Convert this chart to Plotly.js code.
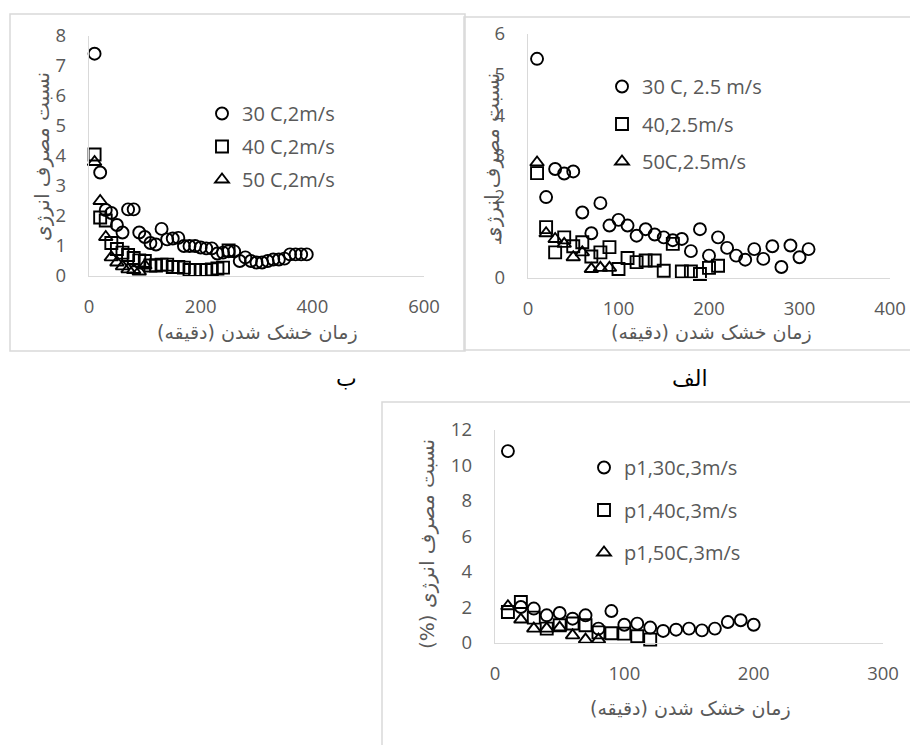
<!DOCTYPE html>
<html>
<head>
<meta charset="utf-8">
<script src="https://cdn.plot.ly/plotly-3.0.1.min.js"></script>
<style>html,body{margin:0;padding:0;background:#fff;}#chart{width:910px;height:745px;}</style>
</head>
<body>
<div id="chart"></div>
<script>
// ---- Panel "ب" (2 m/s) ----
const bTime30 = [10,20,30,40,50,60,70,80,90,100,110,120,130,140,150,160,170,180,190,200,210,220,230,240,250,260,270,280,290,300,310,320,330,340,350,360,370,380,390];
const bVal30  = [7.41,3.45,2.2,2.1,1.7,1.45,2.22,2.22,1.45,1.3,1.1,1.05,1.57,1.22,1.25,1.27,1.0,1.0,1.0,0.95,0.92,0.92,0.75,0.78,0.82,0.82,0.5,0.62,0.5,0.45,0.45,0.5,0.55,0.55,0.58,0.72,0.72,0.72,0.72];
const bTime40 = [10,20,30,40,50,60,70,80,90,100,110,120,130,140,150,160,170,180,190,200,210,220,230,240,250];
const bVal40  = [4.05,1.95,1.85,1.1,0.9,0.78,0.7,0.6,0.52,0.5,0.35,0.35,0.38,0.38,0.3,0.3,0.28,0.2,0.2,0.2,0.2,0.22,0.25,0.28,0.85];
const bTime50 = [10,20,30,40,50,60,70,80,90,100];
const bVal50  = [3.8,2.5,1.3,0.62,0.45,0.32,0.22,0.2,0.15,0.35];
const bNames  = ["30 C,2m/s","40 C,2m/s","50 C,2m/s"];

// ---- Panel "الف" (2.5 m/s) ----
const aTime30 = [10,20,30,40,50,60,70,80,90,100,110,120,130,140,150,160,170,180,190,200,210,220,230,240,250,260,270,280,290,300,310];
const aVal30  = [5.39,1.99,2.68,2.57,2.62,1.61,1.1,1.84,1.29,1.43,1.29,1.04,1.2,1.07,1.0,0.93,0.96,0.66,1.2,0.55,1.0,0.74,0.55,0.45,0.71,0.47,0.78,0.27,0.8,0.51,0.71];
const aTime40 = [10,20,30,40,50,60,70,80,90,100,110,120,130,140,150,160,170,180,190,200,210];
const aVal40  = [2.58,1.25,0.63,1.0,0.78,0.88,0.53,0.63,0.76,0.22,0.49,0.39,0.43,0.43,0.18,0.84,0.16,0.16,0.1,0.25,0.3];
const aTime50 = [10,20,30,40,50,60,70,80,90];
const aVal50  = [2.84,1.1,0.96,0.84,0.51,0.63,0.22,0.25,0.25];
const aNames  = ["30 C, 2.5 m/s","40,2.5m/s","50C,2.5m/s"];

// ---- Bottom panel (3 m/s) ----
const cTime30 = [10,20,30,40,50,60,70,80,90,100,110,120,130,140,150,160,170,180,190,200];
const cVal30  = [10.81,2.03,1.94,1.56,1.69,1.37,1.56,0.81,1.8,1.03,1.09,0.87,0.68,0.75,0.81,0.71,0.81,1.18,1.28,1.03];
const cTime40 = [10,20,30,40,50,60,70,80,90,100,110,120];
const cVal40  = [1.75,2.31,1.43,0.81,1.0,1.1,1.0,0.6,0.55,0.53,0.38,0.19];
const cTime50 = [10,20,30,40,50,60,70,80];
const cVal50  = [2.07,1.32,0.81,0.81,0.87,0.43,0.19,0.19];
const cNames  = ["p1,30c,3m/s","p1,40c,3m/s","p1,50C,3m/s"];

const RLM = "\u200F";
const yTitle   = "نسبت مصرف انرژی";
const yTitlePc = "نسبت مصرف انرژی (%)" + RLM;
const xTitle   = "زمان خشک شدن (دقیقه)" + RLM;
const panelB   = "ب";
const panelA   = "الف";

// ---- layout helpers (pixel -> paper) ----
const W = 910, H = 745;
const px = v => v / W;
const py = v => 1 - v / H;

const gray = '#595959';
const lineGray = '#d9d9d9';
const tickFont = {family: 'Open Sans, sans-serif', size: 18.5, color: gray};
const arFontY = {family: 'DejaVu Sans, sans-serif', size: 20, color: gray};
const arFontX = {family: 'DejaVu Sans, sans-serif', size: 19, color: gray};
const symbols = ['circle-open','square-open','triangle-up-open'];

function mk(x, y, name, i, xa, ya, leg) {
  return {
    type: 'scatter', mode: 'markers', x: x, y: y, name: name,
    xaxis: xa, yaxis: ya, legend: leg, legendgroup: leg + i,
    cliponaxis: false,
    marker: {symbol: symbols[i], size: 12, color: '#000', line: {color: '#000', width: 1.9}}
  };
}

const data = [
  mk(bTime30, bVal30, bNames[0], 0, 'x', 'y', 'legend'),
  mk(bTime40, bVal40, bNames[1], 1, 'x', 'y', 'legend'),
  mk(bTime50, bVal50, bNames[2], 2, 'x', 'y', 'legend'),
  mk(aTime30, aVal30, aNames[0], 0, 'x2', 'y2', 'legend2'),
  mk(aTime40, aVal40, aNames[1], 1, 'x2', 'y2', 'legend2'),
  mk(aTime50, aVal50, aNames[2], 2, 'x2', 'y2', 'legend2'),
  mk(cTime30, cVal30, cNames[0], 0, 'x3', 'y3', 'legend3'),
  mk(cTime40, cVal40, cNames[1], 1, 'x3', 'y3', 'legend3'),
  mk(cTime50, cVal50, cNames[2], 2, 'x3', 'y3', 'legend3')
];

function xax(d, range, dtick, anchor) {
  return {domain: d, range: range, dtick: dtick, tick0: 0, anchor: anchor,
    showline: true, linecolor: lineGray, linewidth: 1.3, showgrid: false, zeroline: false,
    ticks: '', tickfont: tickFont, ticklabelstandoff: 13, fixedrange: true};
}
function yax(d, range, dtick, anchor) {
  return {domain: d, range: range, dtick: dtick, tick0: 0, anchor: anchor,
    showline: true, linecolor: lineGray, linewidth: 1.3, showgrid: false, zeroline: false,
    ticks: '', tickfont: tickFont, ticklabelstandoff: 18, fixedrange: true};
}
function legendAt(x, y, gap) {
  return {x: px(x), y: py(y), xanchor: 'left', yanchor: 'top', bgcolor: 'rgba(0,0,0,0)',
    font: {family: 'Open Sans, sans-serif', size: 20, color: gray},
    tracegroupgap: gap, itemwidth: 30, borderwidth: 0};
}
function ann(text, x, y, font, angle) {
  return {text: text, x: px(x), y: py(y), xref: 'paper', yref: 'paper',
    xanchor: 'center', yanchor: 'middle', showarrow: false, font: font, textangle: angle || 0};
}
function frame(x0, y0, x1, y1) {
  return {type: 'rect', xref: 'paper', yref: 'paper', x0: px(x0), x1: px(x1), y0: py(y0), y1: py(y1),
    line: {color: lineGray, width: 1.5}, fillcolor: 'rgba(0,0,0,0)', layer: 'below'};
}

const layout = {
  width: W, height: H, margin: {l: 0, r: 0, t: 0, b: 0},
  paper_bgcolor: '#fff', plot_bgcolor: 'rgba(0,0,0,0)',
  showlegend: true,
  xaxis:  xax([px(89), px(424)], [0, 600], 200, 'y'),
  yaxis:  yax([py(276), py(36)], [0, 8], 1, 'x'),
  xaxis2: xax([px(528), px(890)], [0, 400], 100, 'y2'),
  yaxis2: yax([py(278), py(34)], [0, 6], 1, 'x2'),
  xaxis3: xax([px(495), px(883)], [0, 300], 100, 'y3'),
  yaxis3: yax([py(643), py(430)], [0, 12], 2, 'x3'),
  legend:  legendAt(202, 94, 4),
  legend2: legendAt(602, 67, 8.5),
  legend3: legendAt(584, 448, 13.5),
  shapes: [frame(10, 14, 465, 351), frame(464, 17, 915, 350), frame(382, 402, 915, 750)],
  annotations: [
    ann(yTitle, 42, 157, arFontY, -90),
    ann(xTitle, 257, 333, arFontX),
    ann(yTitle, 492, 157, arFontY, -90),
    ann(xTitle, 711, 333, arFontX),
    ann(yTitlePc, 427, 544, arFontY, -90),
    ann(xTitle, 690, 708, arFontX),
    ann(panelB, 346, 378, {family: 'DejaVu Sans, sans-serif', size: 22, color: '#000'}),
    ann(panelA, 690, 378, {family: 'DejaVu Sans, sans-serif', size: 22, color: '#000'})
  ]
};

Plotly.newPlot('chart', data, layout, {staticPlot: true, displayModeBar: false});
</script>
</body>
</html>
